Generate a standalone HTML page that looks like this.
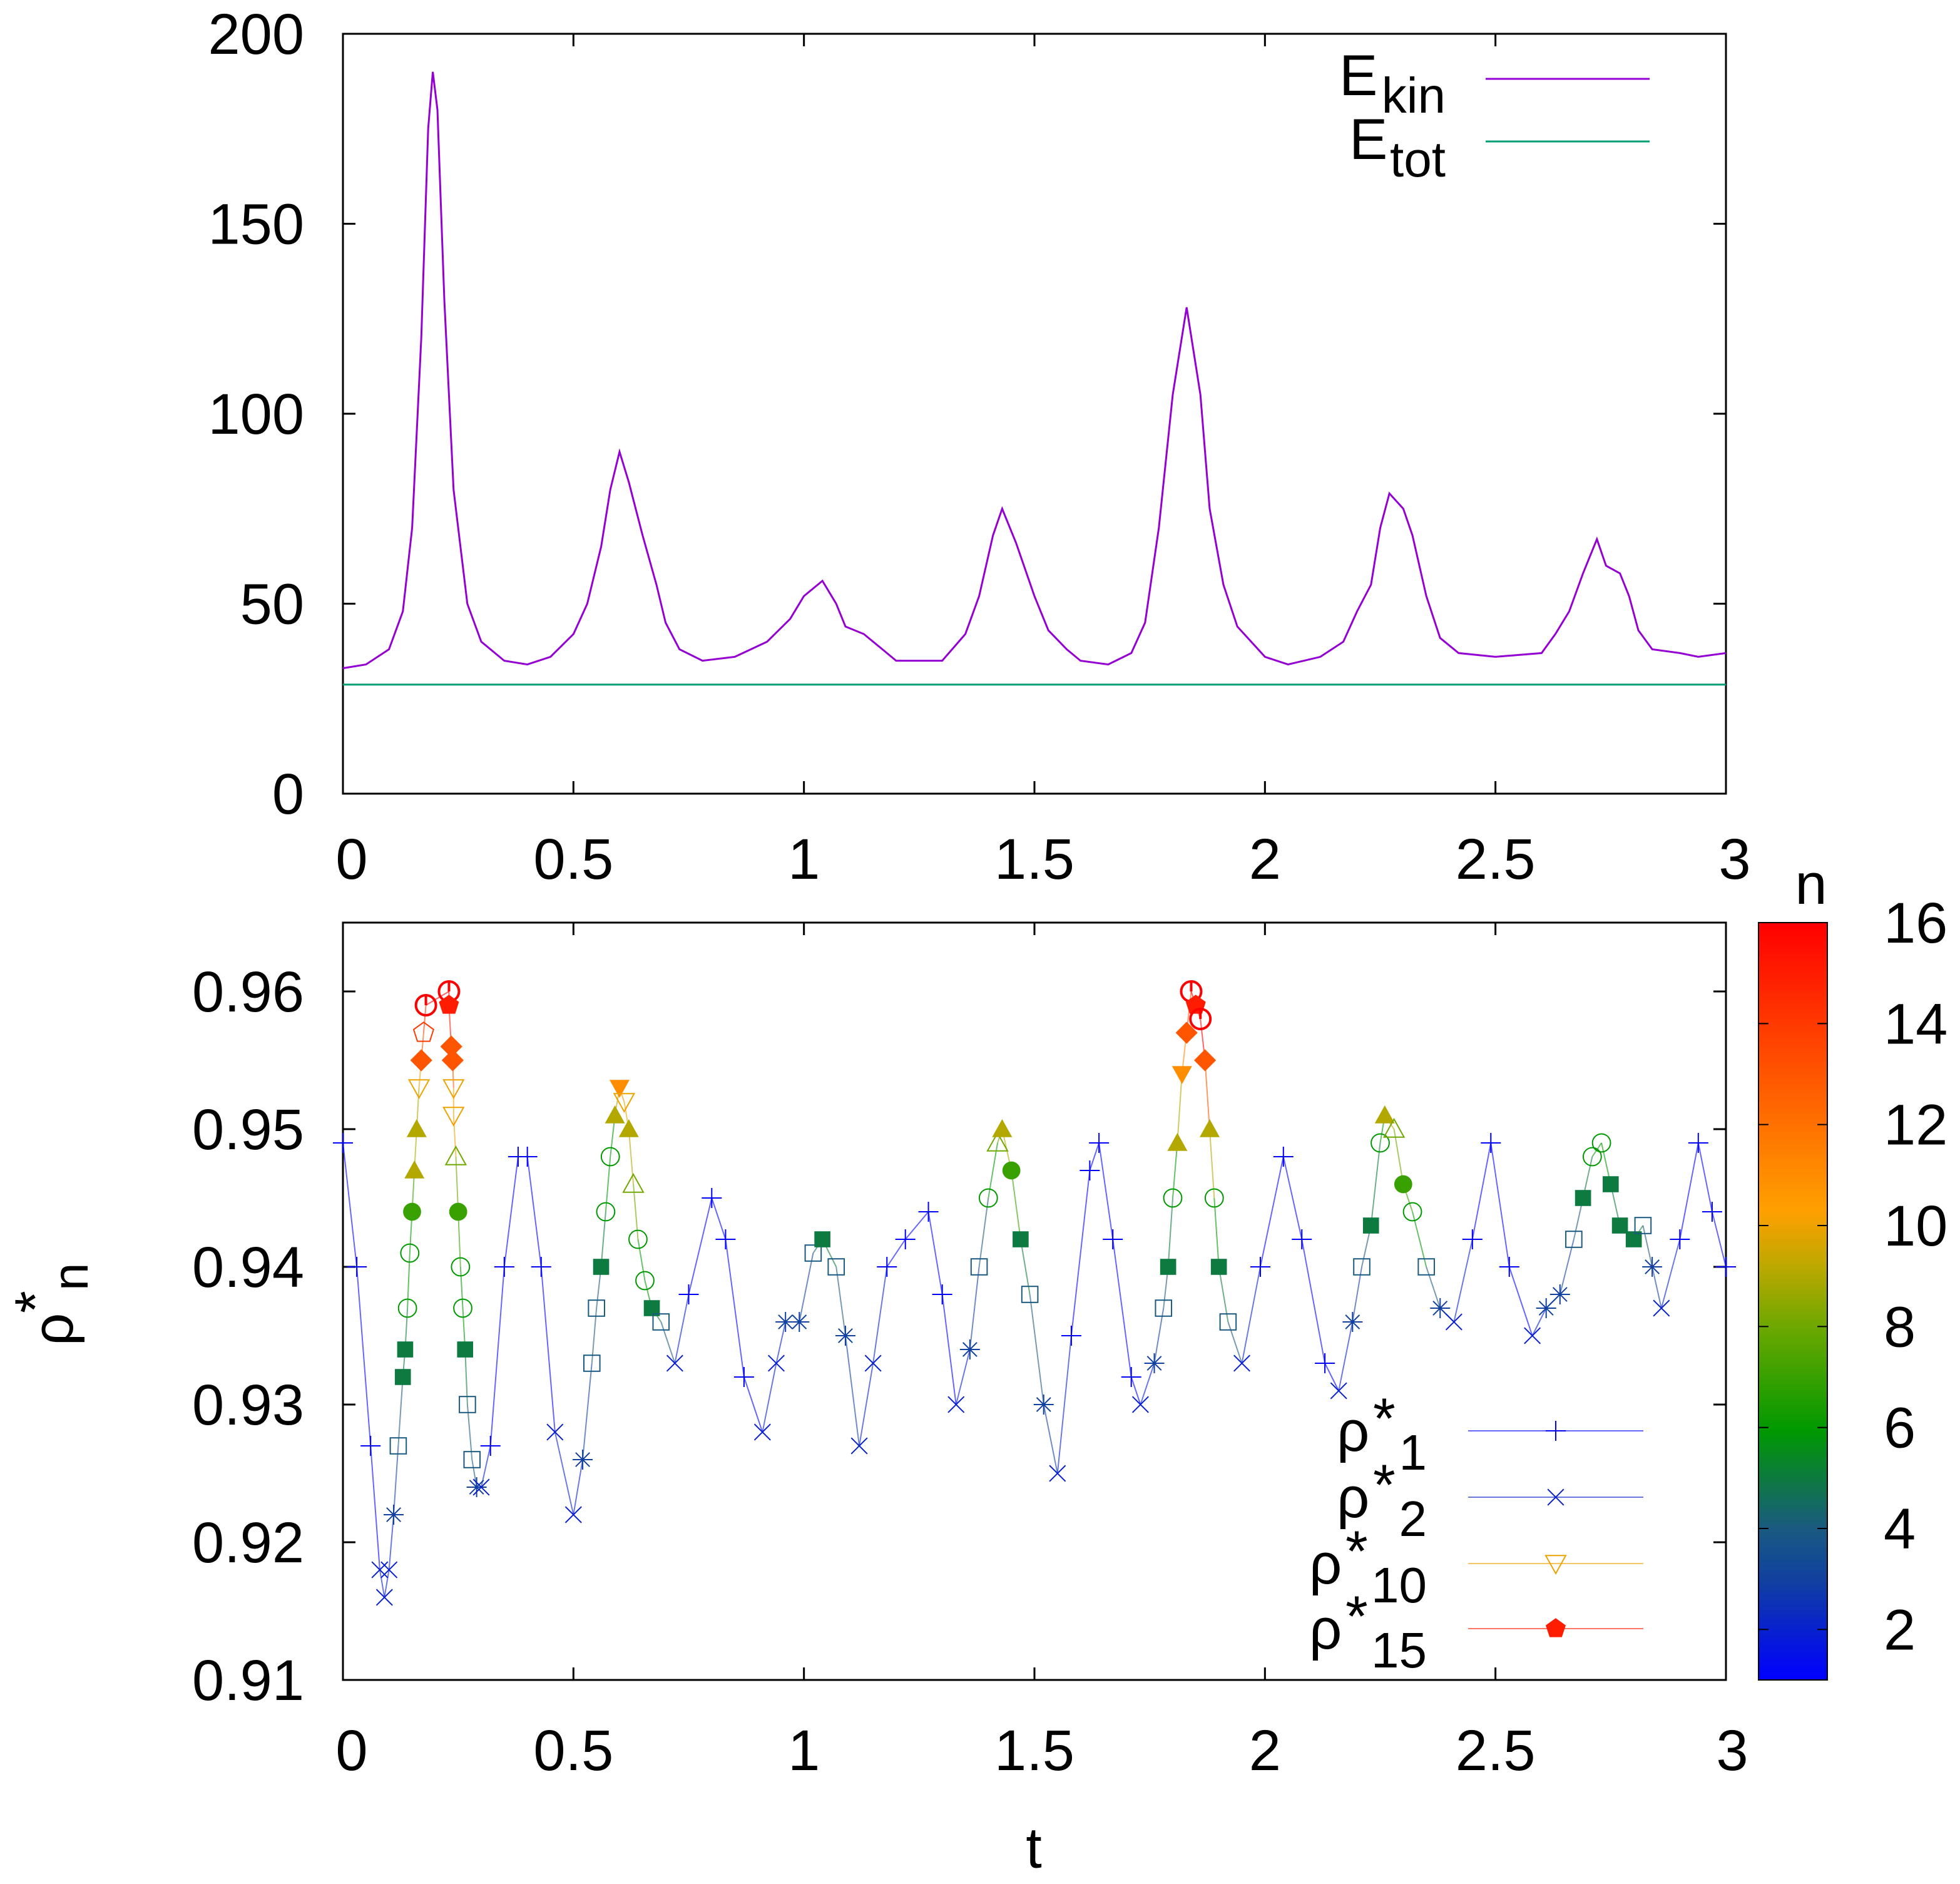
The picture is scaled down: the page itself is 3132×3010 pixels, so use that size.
<!DOCTYPE html>
<html><head><meta charset="utf-8">
<style>
html,body{margin:0;padding:0;background:#fff;}
svg{display:block;}
text{font-family:"Liberation Sans",sans-serif;fill:#000;}
</style></head>
<body>
<svg id="chart" xmlns="http://www.w3.org/2000/svg" width="3132" height="3010" viewBox="0 0 1566 1505">
<defs>
<linearGradient id="cbgrad" x1="0" y1="1" x2="0" y2="0">
<stop offset="0" stop-color="#0000ff"/>
<stop offset="0.13" stop-color="#1040a0"/>
<stop offset="0.2" stop-color="#1a5a80"/>
<stop offset="0.33" stop-color="#009900"/>
<stop offset="0.47" stop-color="#70a800"/>
<stop offset="0.55" stop-color="#c0a800"/>
<stop offset="0.62" stop-color="#ffa000"/>
<stop offset="0.8" stop-color="#ff5500"/>
<stop offset="1" stop-color="#ff0000"/>
</linearGradient>
</defs>
<g id="top"></g>
<g id="bottom"></g>
</svg>
<script>
// ---- top chart data ----
const eT = [0,0.05,0.1,0.13,0.15,0.17,0.185,0.195,0.205,0.22,0.24,0.27,0.3,0.35,0.4,0.45,0.5,0.53,0.56,0.58,0.6,0.62,0.65,0.68,0.7,0.73,0.78,0.85,0.92,0.97,1.0,1.04,1.07,1.09,1.13,1.17,1.2,1.3,1.35,1.38,1.41,1.43,1.46,1.5,1.53,1.57,1.6,1.66,1.71,1.74,1.77,1.8,1.83,1.86,1.88,1.91,1.94,2.0,2.05,2.12,2.17,2.2,2.23,2.25,2.27,2.3,2.32,2.35,2.38,2.42,2.5,2.6,2.63,2.66,2.69,2.72,2.74,2.77,2.79,2.81,2.84,2.9,2.94,3.0];
const eKin = [33,34,38,48,70,120,175,190,180,130,80,50,40,35,34,36,42,50,65,80,90,82,68,55,45,38,35,36,40,46,52,56,50,44,42,38,35,35,42,52,68,75,66,52,43,38,35,34,37,45,70,105,128,105,75,55,44,36,34,36,40,48,55,70,79,75,68,52,41,37,36,37,42,48,58,67,60,58,52,43,38,37,36,37];
const eTot = 28.7;
const eYTicks = [0,50,100,150,200];
const xTicks = [0,0.5,1,1.5,2,2.5,3];
const xTickLabels = ["0","0.5","1","1.5","2","2.5","3"];

// ---- bottom chart data ----
const rT = [0,0.03,0.06,0.08,0.09,0.1,0.11,0.12,0.13,0.135,0.14,0.145,0.15,0.155,0.16,0.165,0.17,0.175,0.18,0.23,0.23,0.235,0.238,0.24,0.24,0.245,0.25,0.255,0.26,0.265,0.27,0.28,0.29,0.3,0.32,0.35,0.38,0.4,0.43,0.46,0.5,0.52,0.54,0.55,0.56,0.57,0.58,0.59,0.6,0.61,0.62,0.63,0.64,0.655,0.67,0.69,0.72,0.75,0.8,0.83,0.87,0.91,0.94,0.96,0.99,1.02,1.04,1.07,1.09,1.12,1.15,1.18,1.22,1.27,1.3,1.33,1.36,1.38,1.4,1.42,1.43,1.45,1.47,1.49,1.52,1.55,1.58,1.62,1.64,1.67,1.71,1.73,1.76,1.78,1.79,1.8,1.81,1.82,1.83,1.84,1.85,1.86,1.87,1.88,1.89,1.9,1.92,1.95,1.99,2.04,2.08,2.13,2.16,2.19,2.21,2.23,2.25,2.26,2.28,2.3,2.32,2.35,2.38,2.41,2.45,2.49,2.53,2.58,2.61,2.64,2.67,2.69,2.71,2.73,2.75,2.77,2.8,2.82,2.84,2.86,2.9,2.94,2.97,3.0];
const rRho = [0.949,0.940,0.927,0.918,0.916,0.918,0.922,0.927,0.932,0.934,0.937,0.941,0.944,0.947,0.950,0.953,0.955,0.957,0.959,0.960,0.959,0.956,0.955,0.953,0.951,0.948,0.944,0.940,0.937,0.934,0.930,0.926,0.924,0.924,0.927,0.940,0.948,0.948,0.940,0.928,0.922,0.926,0.933,0.937,0.940,0.944,0.948,0.951,0.953,0.952,0.950,0.946,0.942,0.939,0.937,0.936,0.933,0.938,0.945,0.942,0.932,0.928,0.933,0.936,0.936,0.941,0.942,0.940,0.935,0.927,0.933,0.940,0.942,0.944,0.938,0.930,0.934,0.940,0.945,0.949,0.950,0.947,0.942,0.938,0.930,0.925,0.935,0.947,0.949,0.942,0.932,0.930,0.933,0.937,0.940,0.945,0.949,0.954,0.957,0.960,0.959,0.958,0.955,0.950,0.945,0.940,0.936,0.933,0.940,0.948,0.942,0.933,0.931,0.936,0.940,0.943,0.949,0.951,0.950,0.946,0.944,0.940,0.937,0.936,0.942,0.949,0.940,0.935,0.937,0.938,0.942,0.945,0.948,0.949,0.946,0.943,0.942,0.943,0.940,0.937,0.942,0.949,0.944,0.940];
const rN = [1,1,1,2,2,2,3,4,5,5,6,6,7,9,9,10,13,14,16,16,15,13,13,10,10,8,7,6,6,5,4,4,3,2,1,1,1,1,1,2,2,3,4,4,5,6,6,9,11,10,9,8,6,6,5,4,2,1,1,1,1,2,2,3,3,4,5,4,3,2,2,1,1,1,1,2,3,4,6,8,9,7,5,4,3,2,1,1,1,1,1,2,3,4,5,6,9,11,13,16,15,16,13,9,6,5,4,2,1,1,1,1,2,3,4,5,6,9,8,7,6,4,3,2,1,1,1,2,3,3,4,5,6,6,5,5,5,4,3,2,1,1,1,1];
const rYTicks = [0.91,0.92,0.93,0.94,0.95,0.96];
const rYTickLabels = ["0.91","0.92","0.93","0.94","0.95","0.96"];
const cbTicks = [2,4,6,8,10,12,14,16];

const FS=46, SFS=40;
const NS="http://www.w3.org/2000/svg";
function mk(tag, attrs, parent){const e=document.createElementNS(NS,tag);for(const k in attrs)e.setAttribute(k,attrs[k]);parent.appendChild(e);return e;}
const L=274,R=1379;
const xS=t=>L+(R-L)*t/3;
const topG=document.getElementById('top');
const botG=document.getElementById('bottom');
const eY=v=>634-(634-27)*v/200;
const rY=v=>1342-(1342-737)*(v-0.91)/0.055;

// top frame
let f=mk('rect',{x:L,y:27,width:R-L,height:607,fill:'none',stroke:'#000','stroke-width':1.5},topG);

eYTicks.forEach(v=>{
 const y=eY(v);
 let g=mk('g',{},topG);
 
 mk('line',{x1:L,x2:L+10,y1:y,y2:y,stroke:'#000','stroke-width':1.5},g);
 mk('line',{x1:R,x2:R-10,y1:y,y2:y,stroke:'#000','stroke-width':1.5},g);
 const t=mk('text',{x:243,y:y+16,'font-size':FS,'text-anchor':'end'},g);t.textContent=v;
});
xTicks.forEach((v,i)=>{
 const x=xS(v);
 let g=mk('g',{},topG);
 
 mk('line',{x1:x,x2:x,y1:634,y2:624,stroke:'#000','stroke-width':1.5},g);
 mk('line',{x1:x,x2:x,y1:27,y2:37,stroke:'#000','stroke-width':1.5},g);
 const t=mk('text',{x:x+(i==0?7:i==6?7:0),y:702,'font-size':FS,'text-anchor':'middle'},g);t.textContent=xTickLabels[i];
});
let pk=mk('path',{d:eT.map((t,i)=>(i?'L':'M')+xS(t).toFixed(1)+','+eY(eKin[i]).toFixed(1)).join(''),fill:'none',stroke:'#9400d3','stroke-width':1.5},topG);

let pt=mk('line',{x1:L,x2:R,y1:eY(eTot),y2:eY(eTot),stroke:'#009e73','stroke-width':1.5},topG);

// top legend
let lg=mk('g',{},topG);
mk('text',{x:1070,y:76,'font-size':FS},lg).textContent='E';
mk('text',{x:1155,y:90,'font-size':SFS,'text-anchor':'end'},lg).textContent='kin';
mk('line',{x1:1187,x2:1318,y1:63,y2:63,stroke:'#9400d3','stroke-width':1.5},lg);
mk('text',{x:1078,y:127,'font-size':FS},lg).textContent='E';
mk('text',{x:1155,y:141,'font-size':SFS,'text-anchor':'end'},lg).textContent='tot';
mk('line',{x1:1187,x2:1318,y1:113,y2:113,stroke:'#009e73','stroke-width':1.5},lg);

// color map
const stops=[[1,[0,0,255]],[3,[16,64,160]],[4,[26,90,128]],[6,[0,153,0]],[8,[112,168,0]],[9.2,[192,168,0]],[10.3,[255,160,0]],[13,[255,85,0]],[16,[255,0,0]]];
function col(n){for(let i=0;i<stops.length-1;i++){const[a,ca]=stops[i],[b,cb]=stops[i+1];if(n<=b){const u=(n-a)/(b-a);return 'rgb('+ca.map((c,j)=>Math.round(c+(cb[j]-c)*u)).join(',')+')';}}return 'rgb(255,0,0)';}

function marker(n,x,y,g){
 const c=col(n),s=8;
 const open={fill:'none',stroke:c,'stroke-width':1};
 const fill={fill:c,stroke:'none'};
 const poly=(pts,st)=>mk('polygon',Object.assign({points:pts.map(p=>(x+p[0]*s).toFixed(1)+','+(y+p[1]*s).toFixed(1)).join(' ')},st),g);
 const tri=[[0,-1],[1,0.8],[-1,0.8]],dtri=[[0,1],[1,-0.8],[-1,-0.8]],dia=[[0,-1.1],[1.1,0],[0,1.1],[-1.1,0]];
 const pent=[0,1,2,3,4].map(k=>[Math.sin(k*1.2566)*1.05,-Math.cos(k*1.2566)*1.05]);
 switch(n){
  case 1: mk('path',{d:`M${x-s},${y}h${2*s}M${x},${y-s}v${2*s}`,stroke:c,'stroke-width':1},g);break;
  case 2: mk('path',{d:`M${x-s*.8},${y-s*.8}l${1.6*s},${1.6*s}M${x-s*.8},${y+s*.8}l${1.6*s},${-1.6*s}`,stroke:c,'stroke-width':1},g);break;
  case 3: mk('path',{d:`M${x-s},${y}h${2*s}M${x},${y-s}v${2*s}M${x-s*.7},${y-s*.7}l${1.4*s},${1.4*s}M${x-s*.7},${y+s*.7}l${1.4*s},${-1.4*s}`,stroke:c,'stroke-width':1},g);break;
  case 4: mk('rect',Object.assign({x:x-s*.8,y:y-s*.8,width:1.6*s,height:1.6*s},open),g);break;
  case 5: mk('rect',Object.assign({x:x-s*.8,y:y-s*.8,width:1.6*s,height:1.6*s},fill),g);break;
  case 6: mk('circle',Object.assign({cx:x,cy:y,r:s*.9},open),g);break;
  case 7: mk('circle',Object.assign({cx:x,cy:y,r:s*.9},fill),g);break;
  case 8: poly(tri,open);break;
  case 9: poly(tri,fill);break;
  case 10: poly(dtri,open);break;
  case 11: poly(dtri,fill);break;
  case 12: poly(dia,open);break;
  case 13: poly(dia,fill);break;
  case 14: poly(pent,open);break;
  case 15: poly(pent,fill);break;
  default: mk('circle',{cx:x,cy:y,r:s,fill:'none',stroke:c,'stroke-width':2},g);mk('line',{x1:x,x2:x,y1:y-s,y2:y,stroke:c,'stroke-width':2},g);
 }
}

// bottom frame
let f2=mk('rect',{x:L,y:737,width:R-L,height:605,fill:'none',stroke:'#000','stroke-width':1.5},botG);

rYTicks.forEach((v,i)=>{
 const y=rY(v);
 let g=mk('g',{},botG);
 
 mk('line',{x1:L,x2:L+10,y1:y,y2:y,stroke:'#000','stroke-width':1.5},g);
 mk('line',{x1:R,x2:R-10,y1:y,y2:y,stroke:'#000','stroke-width':1.5},g);
 const t=mk('text',{x:243,y:y+16,'font-size':FS,'text-anchor':'end'},g);t.textContent=rYTickLabels[i];
});
xTicks.forEach((v,i)=>{
 const x=xS(v);
 let g=mk('g',{},botG);
 
 mk('line',{x1:x,x2:x,y1:1342,y2:1332,stroke:'#000','stroke-width':1.5},g);
 mk('line',{x1:x,x2:x,y1:737,y2:747,stroke:'#000','stroke-width':1.5},g);
 const t=mk('text',{x:x+(i==0?7:i==6?5:0),y:1414,'font-size':FS,'text-anchor':'middle'},g);t.textContent=xTickLabels[i];
});
let xt=mk('text',{x:826,y:1492,'font-size':FS,'text-anchor':'middle'},botG);xt.textContent='t';

let yt=mk('g',{transform:'translate(58,1075) rotate(-90)'},botG);

mk('text',{x:0,y:0,'font-size':FS},yt).textContent='ρ';
mk('text',{x:26,y:-14,'font-size':FS},yt).textContent='*';
mk('text',{x:44,y:12,'font-size':SFS},yt).textContent='n';

// series
let sg=mk('g',{},botG);
for(let i=0;i<rT.length-1;i++){
 const seg=mk('line',{x1:xS(rT[i]),y1:rY(rRho[i]),x2:xS(rT[i+1]),y2:rY(rRho[i+1]),stroke:col(rN[i]),'stroke-width':1,opacity:0.6},sg);
 
 
}
rT.forEach((t,i)=>{
 const g=mk('g',{},sg);
 
 
 marker(rN[i],xS(t),rY(rRho[i]),g);
});

// bottom legend
let lg2=mk('g',{},botG);
[[1,'1',1143],[2,'2',1196],[10,'10',1249],[15,'15',1301]].forEach(([n,lab,y])=>{
 const e=mk('g',{},lg2);
 
 const rx=1140-22*lab.length-50;
 mk('text',{x:rx,y:y+16,'font-size':FS},e).textContent='ρ';
 mk('text',{x:rx+29,y:y+6,'font-size':FS},e).textContent='*';
 mk('text',{x:1140,y:y+31,'font-size':SFS,'text-anchor':'end'},e).textContent=lab;
 mk('line',{x1:1173,x2:1313,y1:y,y2:y,stroke:col(n),'stroke-width':1,opacity:0.6},e);
 marker(n,1243,y,e);
});

// colorbar
let cb=mk('g',{},botG);
mk('rect',{x:1405,y:737,width:55,height:605,fill:'url(#cbgrad)',stroke:'#000','stroke-width':1},cb);
const cbY=n=>1342-605*(n-1)/15;
cbTicks.forEach(n=>{
 const y=cbY(n);
 const g=mk('g',{},cb);
 
 mk('line',{x1:1405,x2:1413,y1:y,y2:y,stroke:'#000','stroke-width':1},g);
 mk('line',{x1:1460,x2:1452,y1:y,y2:y,stroke:'#000','stroke-width':1},g);
 const t=mk('text',{x:1505,y:y+16,'font-size':FS},g);t.textContent=n;
});
let cbt=mk('text',{x:1447,y:722,'font-size':FS,'text-anchor':'middle'},cb);cbt.textContent='n';
</script>
</body></html>
